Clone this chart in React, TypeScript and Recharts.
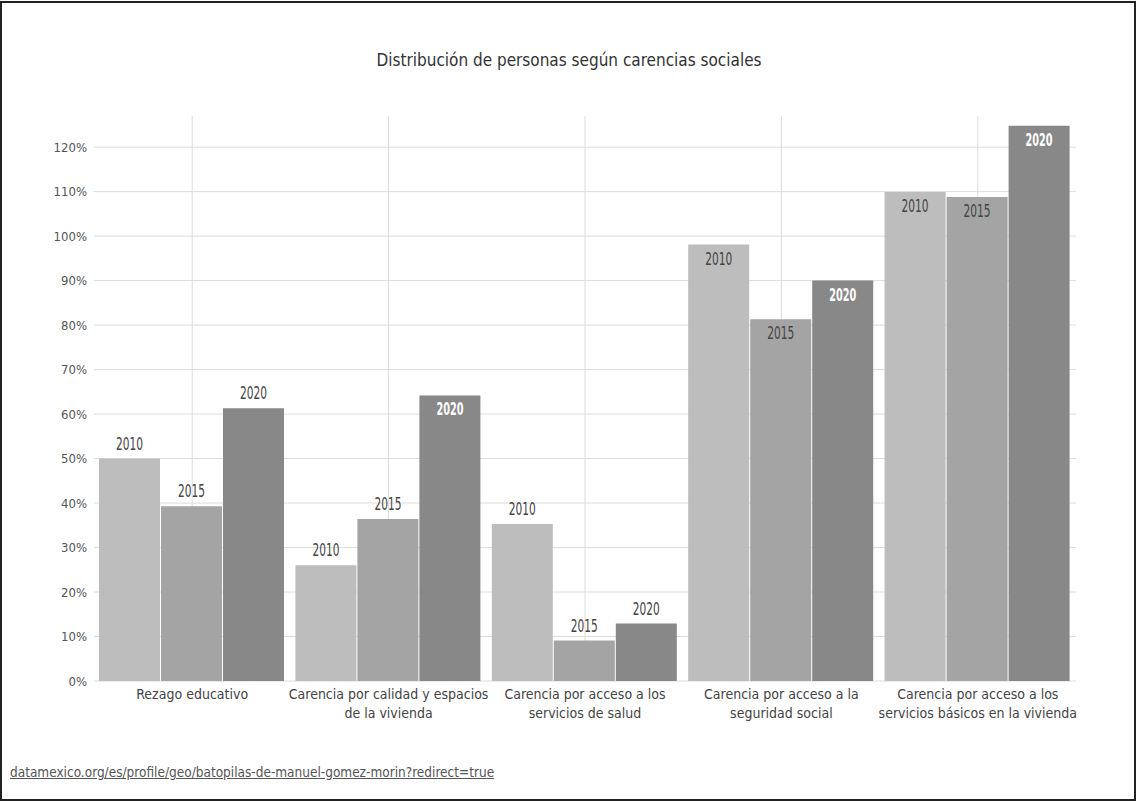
import React from 'react';
import { BarChart, Bar, XAxis, YAxis, CartesianGrid, LabelList } from 'recharts';

const categories = [
  'Rezago educativo',
  'Carencia por calidad y espacios de la vivienda',
  'Carencia por acceso a los servicios de salud',
  'Carencia por acceso a la seguridad social',
  'Carencia por acceso a los servicios básicos en la vivienda',
];

// tick labels, already broken in lines like the reference
const tickLines = [
  ['Rezago educativo'],
  ['Carencia por calidad y espacios', 'de la vivienda'],
  ['Carencia por acceso a los', 'servicios de salud'],
  ['Carencia por acceso a la', 'seguridad social'],
  ['Carencia por acceso a los', 'servicios básicos en la vivienda'],
];

const years = ['2010', '2015', '2020'];
const values2010 = [50.0, 26.0, 35.3, 98.1, 109.9];
const values2015 = [39.3, 36.4, 9.1, 81.3, 108.8];
const values2020 = [61.3, 64.2, 12.9, 90.0, 124.8];
const yTicks = [0, 10, 20, 30, 40, 50, 60, 70, 80, 90, 100, 110, 120];

const data = categories.map((name, i) => ({
  name,
  y2010: values2010[i],
  y2015: values2015[i],
  y2020: values2020[i],
}));

const FONT = '"DejaVu Sans Condensed", "Liberation Sans Narrow", "Noto Sans", sans-serif';
const colors = ['#bdbdbd', '#a4a4a4', '#888888'];

const CategoryTick = ({ x, y, payload }: any) => {
  const lines = tickLines[payload.index] || [payload.value];
  return (
    <text x={x} y={y} textAnchor="middle" fill="#444" fontSize={14} fontFamily={FONT}>
      {lines.map((l: string, i: number) => (
        <tspan key={i} x={x} dy={i === 0 ? 18 : 19}>{l}</tspan>
      ))}
    </text>
  );
};

const makeLabel = (year: string, dark: boolean) => (props: any) => {
  const { x, y, width, value } = props;
  const inside = value > 62;
  const cx = x + width / 2;
  const common = {
    x: cx,
    textAnchor: 'middle' as const,
    fontSize: 17,
    fontFamily: FONT,
    textLength: 27,
    lengthAdjust: 'spacingAndGlyphs' as const,
  };
  if (inside) {
    return (
      <text {...common} y={y + 20} fontWeight={dark ? 700 : 400} fill={dark ? '#ffffff' : '#444'}>
        {year}
      </text>
    );
  }
  return (
    <text {...common} y={y - 9} fill="#444">
      {year}
    </text>
  );
};

export default function App() {
  return (
    <div style={{ position: 'absolute', left: 0, top: 0, width: 1138, height: 801, background: '#fff', fontFamily: FONT }}>
      <div
        style={{
          position: 'absolute',
          left: 0,
          top: 1,
          width: 1136,
          height: 800,
          border: '2px solid #222',
          boxSizing: 'border-box',
          pointerEvents: 'none',
        }}
      />
      <div
        style={{
          position: 'absolute',
          left: 0,
          top: 50,
          width: 1138,
          textAlign: 'center',
          fontSize: 17,
          color: '#333',
        }}
      >
        Distribución de personas según carencias sociales
      </div>
      <BarChart
        width={1138}
        height={801}
        data={data}
        margin={{ top: 116, right: 62, left: 34, bottom: 80 }}
        barCategoryGap={5}
        barGap={1}
      >
        <CartesianGrid stroke="#dcdcdc" syncWithTicks />
        <XAxis
          dataKey="name"
          axisLine={false}
          tickLine={false}
          tickSize={0}
          tickMargin={0}
          height={40}
          interval={0}
          tick={<CategoryTick />}
        />
        <YAxis
          width={60}
          domain={[0, 127]}
          ticks={yTicks}
          allowDataOverflow
          axisLine={false}
          tickLine={false}
          tickSize={0}
          tickMargin={7}
          tickFormatter={(v: number) => v + '%'}
          tick={{ fill: '#555', fontSize: 13, fontFamily: FONT }}
        />
        <Bar dataKey="y2010" fill={colors[0]} isAnimationActive={false}>
          <LabelList dataKey="y2010" content={makeLabel(years[0], false)} />
        </Bar>
        <Bar dataKey="y2015" fill={colors[1]} isAnimationActive={false}>
          <LabelList dataKey="y2015" content={makeLabel(years[1], false)} />
        </Bar>
        <Bar dataKey="y2020" fill={colors[2]} isAnimationActive={false}>
          <LabelList dataKey="y2020" content={makeLabel(years[2], true)} />
        </Bar>
      </BarChart>
      <div
        style={{
          position: 'absolute',
          left: 10,
          top: 764,
          fontSize: 13.5,
          color: '#555',
          textDecoration: 'underline',
        }}
      >
        datamexico.org/es/profile/geo/batopilas-de-manuel-gomez-morin?redirect=true
      </div>
    </div>
  );
}
